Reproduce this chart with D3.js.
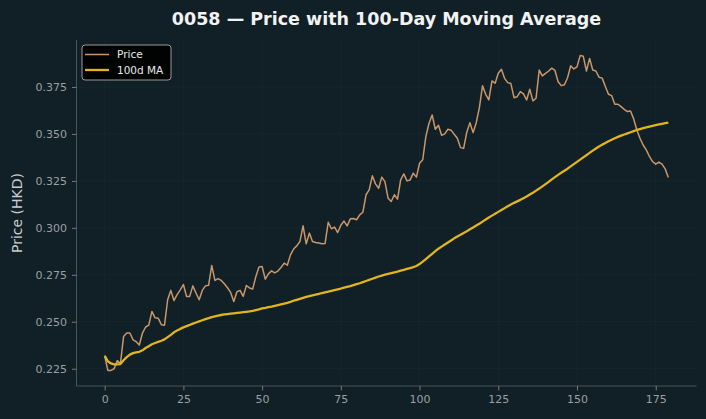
<!DOCTYPE html>
<html>
<head>
<meta charset="utf-8">
<script src="https://cdn.jsdelivr.net/npm/d3@7"></script>
<style>
  html, body { margin: 0; padding: 0; background: #111f26; }
  svg { display: block; }
</style>
</head>
<body>
<svg id="chart" width="706" height="419"></svg>
<script>
const title = "0058 — Price with 100-Day Moving Average";
const yLabel = "Price (HKD)";
const seriesNames = ["Price", "100d MA"];
const xTicks = [0, 25, 50, 75, 100, 125, 150, 175];
const yTicks = [0.225, 0.250, 0.275, 0.300, 0.325, 0.350, 0.375];

const price = [
  0.2319, 0.2241, 0.2241, 0.2250, 0.2293, 0.2277, 0.2422, 0.2440, 0.2440, 0.2404,
  0.2394, 0.2376, 0.2440, 0.2472, 0.2482, 0.2555, 0.2521, 0.2519, 0.2484, 0.2482,
  0.2617, 0.2667, 0.2613, 0.2644, 0.2670, 0.2698, 0.2635, 0.2635, 0.2691, 0.2653,
  0.2617, 0.2667, 0.2691, 0.2694, 0.2800, 0.2720, 0.2730, 0.2720, 0.2702, 0.2681,
  0.2656, 0.2608, 0.2660, 0.2667, 0.2635, 0.2693, 0.2680, 0.2674, 0.2740, 0.2791,
  0.2794, 0.2727, 0.2755, 0.2771, 0.2760, 0.2770, 0.2789, 0.2812, 0.2801, 0.2856,
  0.2887, 0.2904, 0.2927, 0.3011, 0.2915, 0.2972, 0.2927, 0.2922, 0.2919, 0.2915,
  0.2917, 0.3030, 0.2995, 0.3004, 0.2975, 0.3014, 0.3036, 0.3010, 0.3048, 0.3050,
  0.3043, 0.3069, 0.3083, 0.3176, 0.3202, 0.3277, 0.3234, 0.3211, 0.3270, 0.3246,
  0.3158, 0.3140, 0.3176, 0.3153, 0.3255, 0.3287, 0.3250, 0.3255, 0.3291, 0.3270,
  0.3344, 0.3362, 0.3486, 0.3557, 0.3601, 0.3525, 0.3546, 0.3493, 0.3500, 0.3525,
  0.3520, 0.3498, 0.3477, 0.3427, 0.3423, 0.3509, 0.3560, 0.3507, 0.3560, 0.3640,
  0.3757, 0.3711, 0.3681, 0.3782, 0.3770, 0.3823, 0.3844, 0.3796, 0.3773, 0.3768,
  0.3693, 0.3698, 0.3725, 0.3713, 0.3681, 0.3738, 0.3676, 0.3690, 0.3840, 0.3809,
  0.3822, 0.3835, 0.3850, 0.3838, 0.3778, 0.3757, 0.3762, 0.3799, 0.3863, 0.3846,
  0.3857, 0.3917, 0.3913, 0.3835, 0.3902, 0.3840, 0.3835, 0.3802, 0.3797, 0.3752,
  0.3711, 0.3704, 0.3658, 0.3658, 0.3645, 0.3631, 0.3619, 0.3622, 0.3580, 0.3521,
  0.3477, 0.3441, 0.3415, 0.3380, 0.3353, 0.3339, 0.3350, 0.3339, 0.3314, 0.3268
];

const ma100 = [
  0.2319, 0.2290, 0.2278, 0.2273, 0.2273, 0.2275, 0.2295, 0.2312, 0.2325, 0.2333,
  0.2337, 0.2340, 0.2348, 0.2360, 0.2370, 0.2380, 0.2387, 0.2393, 0.2399, 0.2406,
  0.2418, 0.2430, 0.2444, 0.2453, 0.2462, 0.2470, 0.2477, 0.2483, 0.2490, 0.2496,
  0.2502, 0.2508, 0.2514, 0.2519, 0.2525, 0.2529, 0.2533, 0.2536, 0.2539, 0.2541,
  0.2543, 0.2545, 0.2547, 0.2549, 0.2551, 0.2553, 0.2555, 0.2558, 0.2562, 0.2566,
  0.2571, 0.2574, 0.2578, 0.2581, 0.2585, 0.2589, 0.2593, 0.2597, 0.2601, 0.2606,
  0.2612, 0.2617, 0.2622, 0.2627, 0.2632, 0.2636, 0.2640, 0.2644, 0.2648, 0.2653,
  0.2657, 0.2661, 0.2665, 0.2669, 0.2673, 0.2677, 0.2682, 0.2686, 0.2690, 0.2695,
  0.2700, 0.2705, 0.2711, 0.2717, 0.2723, 0.2729, 0.2735, 0.2741, 0.2746, 0.2751,
  0.2755, 0.2759, 0.2763, 0.2767, 0.2772, 0.2776, 0.2781, 0.2786, 0.2791, 0.2797,
  0.2807, 0.2820, 0.2834, 0.2848, 0.2862, 0.2876, 0.2889, 0.2900, 0.2911, 0.2922,
  0.2933, 0.2944, 0.2954, 0.2963, 0.2973, 0.2982, 0.2992, 0.3002, 0.3012, 0.3022,
  0.3033, 0.3044, 0.3055, 0.3065, 0.3075, 0.3085, 0.3095, 0.3105, 0.3115, 0.3124,
  0.3133, 0.3141, 0.3149, 0.3158, 0.3167, 0.3177, 0.3187, 0.3198, 0.3209, 0.3221,
  0.3233, 0.3245, 0.3258, 0.3270, 0.3282, 0.3293, 0.3304, 0.3315, 0.3327, 0.3339,
  0.3351, 0.3363, 0.3375, 0.3387, 0.3399, 0.3411, 0.3422, 0.3433, 0.3443, 0.3452,
  0.3461, 0.3469, 0.3477, 0.3484, 0.3491, 0.3497, 0.3503, 0.3509, 0.3515, 0.3521,
  0.3526, 0.3531, 0.3535, 0.3539, 0.3543, 0.3547, 0.3551, 0.3554, 0.3557, 0.3560
];

const W = 706, H = 419;
const margin = { left: 76.5, right: 9.5, top: 40, bottom: 33 };
const svg = d3.select("#chart");
const font = "'DejaVu Sans', sans-serif";

const n = price.length;
const xPad = (n - 1) * 0.05;
const x = d3.scaleLinear().domain([-xPad, n - 1 + xPad]).range([margin.left, W - margin.right]);
const y = d3.scaleLinear().domain([0.2158, 0.4000]).range([H - margin.bottom, margin.top]);

// grid
const grid = svg.append("g");
grid.selectAll(".gx").data(xTicks).enter().append("line")
  .attr("x1", d => x(d)).attr("x2", d => x(d))
  .attr("y1", margin.top).attr("y2", H - margin.bottom)
  .attr("stroke", "#19272e").attr("stroke-width", 0.8);
grid.selectAll(".gy").data(yTicks).enter().append("line")
  .attr("x1", margin.left).attr("x2", W - margin.right)
  .attr("y1", d => y(d)).attr("y2", d => y(d))
  .attr("stroke", "#19272e").attr("stroke-width", 0.8);

// axes
const xAxis = d3.axisBottom(x).tickValues(xTicks).tickFormat(d3.format("d")).tickSize(4.5).tickPadding(5);
const yAxis = d3.axisLeft(y).tickValues(yTicks).tickFormat(d3.format(".3f")).tickSize(4.5).tickPadding(5);

const gx = svg.append("g").attr("transform", `translate(0,${H - margin.bottom})`).call(xAxis);
const gy = svg.append("g").attr("transform", `translate(${margin.left},0)`).call(yAxis);
[gx, gy].forEach(g => {
  g.select(".domain").attr("stroke", "#4a5459").attr("stroke-width", 1);
  g.selectAll(".tick line").attr("stroke", "#8a9296").attr("stroke-width", 0.8);
  g.selectAll(".tick text").attr("fill", "#9aa0a3").style("font-family", font).style("font-size", "11px");
});
gx.select(".domain").attr("d", `M${margin.left},0H${W - margin.right}`);
gy.select(".domain").attr("d", `M0,${margin.top}V${H - margin.bottom}`);

// lines
const line = d3.line().x((d, i) => x(i)).y(d => y(d));
svg.append("path").datum(price).attr("d", line)
  .attr("fill", "none").attr("stroke", "#c8976a").attr("stroke-width", 1.5).attr("stroke-linejoin", "round");
svg.append("path").datum(ma100).attr("d", line)
  .attr("fill", "none").attr("stroke", "#e2b51a").attr("stroke-width", 2.3).attr("stroke-linejoin", "round");

// title
svg.append("text").attr("x", (margin.left + W - margin.right) / 2).attr("y", 25)
  .attr("text-anchor", "middle").attr("fill", "#f2f2f2")
  .style("font-family", font).style("font-size", "17.5px").style("font-weight", "bold")
  .text(title);

// y label
svg.append("text").attr("transform", `translate(22,${(margin.top + H - margin.bottom) / 2}) rotate(-90)`)
  .attr("text-anchor", "middle").attr("fill", "#c8cccf")
  .style("font-family", font).style("font-size", "14px")
  .text(yLabel);

// legend
const lg = svg.append("g").attr("transform", "translate(82,45)");
lg.append("rect").attr("width", 89).attr("height", 35).attr("rx", 3)
  .attr("fill", "#000000").attr("fill-opacity", 0.9)
  .attr("stroke", "#9a9a9a").attr("stroke-width", 1);
const legendColors = ["#c8976a", "#e2b51a"];
const legendWidths = [1.5, 2.3];
seriesNames.forEach((name, i) => {
  const yy = 9.5 + i * 15.5;
  lg.append("line").attr("x1", 3).attr("x2", 27).attr("y1", yy).attr("y2", yy)
    .attr("stroke", legendColors[i]).attr("stroke-width", legendWidths[i]);
  lg.append("text").attr("x", 35).attr("y", yy + 3.5).attr("fill", "#e8e8e8")
    .style("font-family", font).style("font-size", "10.5px").text(name);
});
</script>
</body>
</html>
